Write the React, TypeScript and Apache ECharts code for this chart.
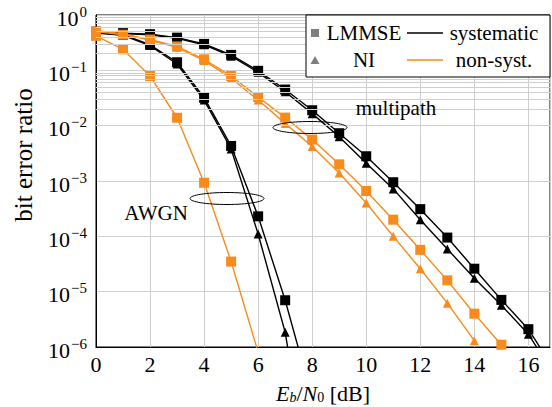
import React, { useEffect, useRef } from "react";
import * as echarts from "echarts";

// Eb/N0 values [dB]
const ebn0 = [0, 1, 2, 3, 4, 5, 6, 7, 8, 9, 10, 11, 12, 13, 14, 15, 16, 17];

// AWGN channel
const awgnSysLmmse = [0.48, 0.44, 0.29, 0.14, 0.032, 0.0043, 2.3e-4, 7e-6, 1.2e-7];
const awgnSysNi = [0.47, 0.43, 0.28, 0.13, 0.029, 0.0038, 1.1e-4, 1.85e-6, 2e-9];
const awgnNonLmmse = [0.42, 0.24, 0.079, 0.0139, 9.3e-4, 3.5e-5, 8e-7];

// multipath channel
const mpSysLmmse = [0.5, 0.47, 0.45, 0.39, 0.3, 0.19, 0.098, 0.045, 0.019, 0.0073, 0.0028, 9.5e-4, 3.1e-4, 9.5e-5, 2.6e-5, 7.1e-6, 2.1e-6, 3.6e-7];
const mpSysNi = [0.5, 0.46, 0.44, 0.38, 0.29, 0.18, 0.092, 0.041, 0.0165, 0.0063, 0.0021, 7.2e-4, 2.0e-4, 5.9e-5, 1.75e-5, 5.7e-6, 1.7e-6, 2.9e-7];
const mpNonLmmse = [0.5, 0.44, 0.36, 0.27, 0.158, 0.079, 0.033, 0.014, 0.0056, 0.002, 6.6e-4, 2.0e-4, 5.7e-5, 1.6e-5, 4.0e-6, 1.1e-6];
const mpNonNi = [0.52, 0.46, 0.35, 0.26, 0.15, 0.072, 0.029, 0.011, 0.0042, 0.0014, 4.0e-4, 1.0e-4, 2.6e-5, 6.2e-6, 1.3e-6];

// axis ticks
const decades = [-6, -5, -4, -3, -2, -1];
const minorMultipliers = [2, 3, 4, 5, 6, 7, 8, 9];

const BLACK = "#000000";
const ORANGE = "#f98a1c";
const GRIDC = "#cfcfcf";
const FONT = "Liberation Serif";

const pairs = (ys: number[]) => ys.map((y, i) => [ebn0[i], y]);

function mkSeries(name: string, ys: number[], color: string, symbol: string, size: number) {
  return {
    name,
    type: "line",
    data: pairs(ys),
    symbol,
    symbolSize: size,
    clip: true,
    z: color === ORANGE ? 4 : 3,
    lineStyle: { color, width: 1.4 },
    itemStyle: { color },
    emphasis: { disabled: true },
  };
}

export default function App() {
  const ref = useRef<HTMLDivElement>(null);
  useEffect(() => {
    if (!ref.current) return;
    const chart = echarts.init(ref.current, undefined, { renderer: "svg" });
    const minorVals: number[] = [];
    decades.forEach((d) => minorMultipliers.forEach((m) => minorVals.push(m * Math.pow(10, d))));

    const txt = (text: string, x: number, y: number, align = "left", size = 21, extra: any = {}) => ({
      type: "text",
      x,
      y,
      z: 101,
      ...extra,
      style: { text, fontFamily: FONT, fontSize: size, fill: "#000", align, verticalAlign: "middle" },
    });

    chart.setOption({
      animation: false,
      grid: {
        left: 96, right: 2, top: 15, bottom: 60,
        outerBoundsMode: "none",
        containLabel: false,
        show: true, borderColor: "#000", borderWidth: 1, backgroundColor: "transparent",
      },
      xAxis: {
        type: "value",
        min: 0,
        max: 16.8,
        interval: 2,
        axisLine: { show: true, lineStyle: { color: "#000", width: 1 } },
        axisTick: { show: false },
        splitLine: { show: true, lineStyle: { color: GRIDC, width: 1 } },
        axisLabel: {
          color: "#000",
          fontFamily: FONT,
          fontSize: 22,
          margin: 6,
          formatter: (v: number) => (Math.abs(v % 2) < 1e-9 ? String(v) : ""),
        },
        name: "{i|E}{si|b}{n|/}{i|N}{sb|0}{n| [dB]}",
        nameLocation: "middle",
        nameGap: 35,
        nameTextStyle: {
          rich: {
            i: { fontFamily: FONT, fontSize: 22, fontStyle: "italic", color: "#000", lineHeight: 22 },
            n: { fontFamily: FONT, fontSize: 22, color: "#000", lineHeight: 22 },
            si: { fontFamily: FONT, fontSize: 14, fontStyle: "italic", color: "#000", lineHeight: 14, padding: [8, 0, 0, 0] },
            sb: { fontFamily: FONT, fontSize: 14, color: "#000", lineHeight: 14, padding: [8, 0, 0, 0] },
          },
        },
      },
      yAxis: {
        type: "log",
        logBase: 10,
        min: 1e-6,
        max: 1,
        axisLine: { show: true, lineStyle: { color: "#000", width: 1 } },
        axisTick: { show: false },
        splitLine: { show: true, lineStyle: { color: GRIDC, width: 1 } },
        axisLabel: {
          margin: 9,
          formatter: (v: number) => {
            const e = Math.round(Math.log10(v));
            return "{b|10}{s|" + (e === 0 ? "0" : "\u2212" + -e) + "}";
          },
          rich: {
            b: { fontFamily: FONT, fontSize: 22, color: "#000", lineHeight: 22, padding: [6, 0, 0, 0] },
            s: { fontFamily: FONT, fontSize: 15, color: "#000", lineHeight: 15, padding: [3, 0, 10, 1] },
          },
        },
      },
      series: [
        {
          type: "line",
          data: [],
          z: 1,
          silent: true,
          markLine: {
            silent: true,
            symbol: ["none", "none"],
            label: { show: false },
            emphasis: { disabled: true },
            lineStyle: { color: GRIDC, width: 1, type: "solid" },
            data: minorVals.map((v) => ({ yAxis: v })),
          },
        },
        mkSeries("AWGN systematic LMMSE", awgnSysLmmse, BLACK, "rect", 10),
        mkSeries("AWGN systematic NI", awgnSysNi, BLACK, "triangle", 9),
        mkSeries("multipath systematic LMMSE", mpSysLmmse, BLACK, "rect", 10),
        mkSeries("multipath systematic NI", mpSysNi, BLACK, "triangle", 9),
        mkSeries("AWGN non-syst. LMMSE", awgnNonLmmse, ORANGE, "rect", 10),
        mkSeries("multipath non-syst. LMMSE", mpNonLmmse, ORANGE, "rect", 10),
        mkSeries("multipath non-syst. NI", mpNonNi, ORANGE, "triangle", 9),
      ],
      graphic: [
        txt("bit error ratio", 23, 155, "center", 25, { rotation: Math.PI / 2 }),
        // legend
        { type: "rect", z: 100, shape: { x: 306, y: 15, width: 244, height: 62 }, style: { fill: "#fff", stroke: "#000", lineWidth: 1 } },
        { type: "rect", z: 101, shape: { x: 311, y: 29, width: 8, height: 8 }, style: { fill: "#7f7f7f" } },
        { type: "polygon", z: 101, shape: { points: [[315, 56], [319.5, 64], [310.5, 64]] }, style: { fill: "#7f7f7f" } },
        txt("LMMSE", 364, 33, "center"),
        txt("NI", 364, 60, "center"),
        { type: "line", z: 101, shape: { x1: 407, y1: 33, x2: 443, y2: 33 }, style: { stroke: BLACK, lineWidth: 1.3 } },
        { type: "line", z: 101, shape: { x1: 407, y1: 60, x2: 443, y2: 60 }, style: { stroke: ORANGE, lineWidth: 1.3 } },
        txt("systematic", 494, 33, "center"),
        txt("non-syst.", 494, 60, "center"),
        // annotations
        { type: "ellipse", z: 101, shape: { cx: 310, cy: 127.5, rx: 37, ry: 6 }, style: { fill: "none", stroke: "#000", lineWidth: 1 } },
        txt("multipath", 396, 108, "center"),
        { type: "ellipse", z: 101, shape: { cx: 227, cy: 198.5, rx: 37, ry: 6 }, style: { fill: "none", stroke: "#000", lineWidth: 1 } },
        txt("AWGN", 156, 213, "center"),
      ],
    });
    return () => chart.dispose();
  }, []);
  return <div ref={ref} style={{ position: "fixed", left: 0, top: 0, width: 552, height: 407, background: "#fff" }} />;
}
